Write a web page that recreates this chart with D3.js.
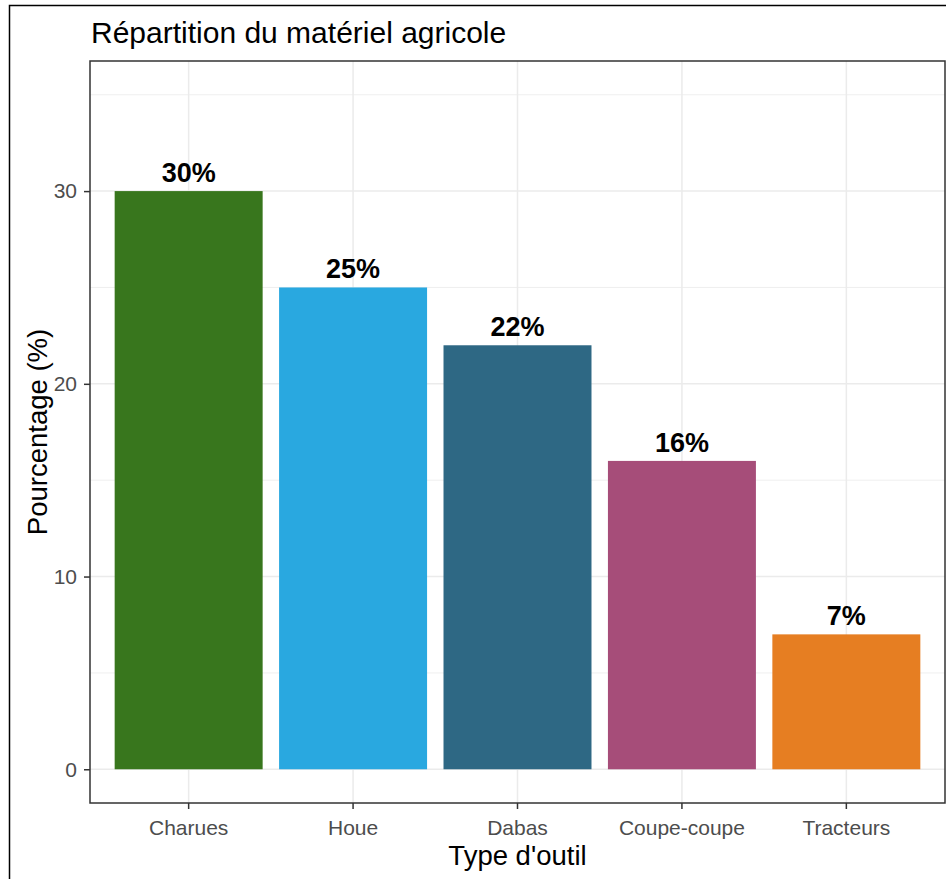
<!DOCTYPE html>
<html><head><meta charset="utf-8">
<script src="https://cdn.jsdelivr.net/npm/d3@7"></script>
<style>body{margin:0;background:#fff}svg{display:block}text{font-family:"Liberation Sans",Arial,sans-serif}</style>
</head><body>
<svg id="c" width="946" height="879"></svg>
<script>
const categories = ["Charues", "Houe", "Dabas", "Coupe-coupe", "Tracteurs"];
const values = [30, 25, 22, 16, 7];
const colors = ["#38761D", "#29A8E0", "#2E6884", "#A64D79", "#E67E22"];
const yTicks = [0, 10, 20, 30];
const yMinor = [5, 15, 25, 35];
const title = "Répartition du matériel agricole";
const xTitle = "Type d'outil";
const yTitle = "Pourcentage (%)";

const svg = d3.select("#c");
svg.append("rect").attr("width",946).attr("height",879).attr("fill","#fff");
svg.append("rect").attr("x",9.5).attr("y",5.5).attr("width",1000).attr("height",1000)
  .attr("fill","none").attr("stroke","#000").attr("stroke-width",1.5);

const L=90, R=945, T=61, B=803;
const y = d3.scaleLinear().domain([-1.75, 36.75]).range([B, T]);
const xc = d3.scaleLinear().domain([0.4, 5.6]).range([L, R]);
const x = d3.scaleBand().domain(categories).range([xc(0.5), xc(5.5)]).paddingInner(0.1).paddingOuter(0.05);

const g = svg.append("g");
g.selectAll(".minor").data(yMinor).join("line")
  .attr("x1",L).attr("x2",R).attr("y1",d=>y(d)).attr("y2",d=>y(d))
  .attr("stroke","#EBEBEB").attr("stroke-width",0.8);
g.selectAll(".major").data(yTicks).join("line")
  .attr("x1",L).attr("x2",R).attr("y1",d=>y(d)).attr("y2",d=>y(d))
  .attr("stroke","#EBEBEB").attr("stroke-width",1.5);
g.selectAll(".vmaj").data(categories).join("line")
  .attr("x1",d=>x(d)+x.bandwidth()/2).attr("x2",d=>x(d)+x.bandwidth()/2).attr("y1",T).attr("y2",B)
  .attr("stroke","#EBEBEB").attr("stroke-width",1.5);

g.selectAll(".bar").data(values).join("rect")
  .attr("x",(d,i)=>x(categories[i])).attr("width",x.bandwidth())
  .attr("y",d=>y(d)).attr("height",d=>y(0)-y(d)).attr("fill",(d,i)=>colors[i]);

g.selectAll(".lab").data(values).join("text")
  .attr("x",(d,i)=>x(categories[i])+x.bandwidth()/2).attr("y",d=>y(d)-9)
  .attr("text-anchor","middle").attr("font-size",27).attr("font-weight","bold").attr("fill","#000")
  .text(d=>d+"%");

svg.append("rect").attr("x",L).attr("y",T).attr("width",R-L).attr("height",B-T)
  .attr("fill","none").attr("stroke","#333").attr("stroke-width",1.5);

// y axis
const ya = svg.append("g").attr("transform",`translate(${L},0)`)
  .call(d3.axisLeft(y).tickValues(yTicks).tickSize(6).tickPadding(7));
ya.select(".domain").remove();
ya.selectAll(".tick line").attr("stroke","#333").attr("stroke-width",1.5);
ya.selectAll(".tick text").attr("font-size",21).attr("fill","#4D4D4D").attr("font-family","Liberation Sans, Arial, sans-serif");

// x axis
const xa = svg.append("g").attr("transform",`translate(0,${B})`)
  .call(d3.axisBottom(x).tickSize(6).tickPadding(6));
xa.select(".domain").remove();
xa.selectAll(".tick line").attr("stroke","#333").attr("stroke-width",1.5);
xa.selectAll(".tick text").attr("font-size",21).attr("fill","#4D4D4D").attr("font-family","Liberation Sans, Arial, sans-serif")
  .attr("dy",null).attr("y",32);

svg.append("text").attr("x",91).attr("y",43).attr("font-size",30).attr("fill","#000").text(title);
svg.append("text").attr("x",(L+R)/2).attr("y",865).attr("text-anchor","middle").attr("font-size",27.5).attr("fill","#000").text(xTitle);
svg.append("text").attr("transform",`translate(47,${(T+B)/2}) rotate(-90)`).attr("text-anchor","middle")
  .attr("font-size",27.5).attr("fill","#000").text(yTitle);
</script>
</body></html>
